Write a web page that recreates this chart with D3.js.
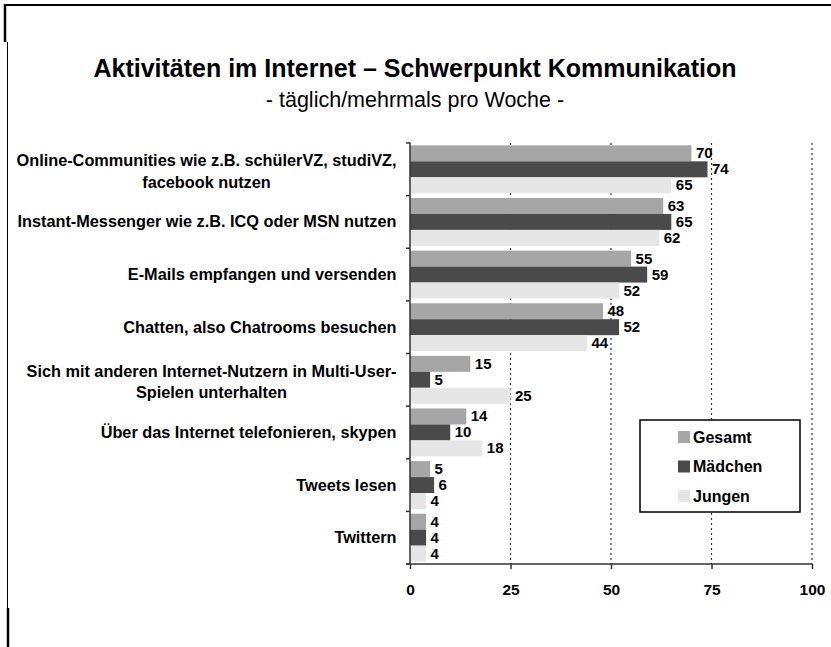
<!DOCTYPE html>
<html>
<head>
<meta charset="utf-8">
<script src="https://cdn.jsdelivr.net/npm/d3@7"></script>
<style>
  body { margin: 0; background: #fff; }
  svg { display: block; font-family: "Liberation Sans", Arial, sans-serif; }
</style>
</head>
<body>
<div id="chart"></div>
<script>
// Werte
const categories = [
  "Online-Communities wie z.B. schülerVZ, studiVZ,\nfacebook nutzen",
  "Instant-Messenger wie z.B. ICQ oder MSN nutzen",
  "E-Mails empfangen und versenden",
  "Chatten, also Chatrooms besuchen",
  "Sich mit anderen Internet-Nutzern in Multi-User-\nSpielen unterhalten",
  "Über das Internet telefonieren, skypen",
  "Tweets lesen",
  "Twittern"
];
const seriesNames = ["Gesamt", "Mädchen", "Jungen"];
const gesamt   = [70, 63, 55, 48, 15, 14, 5, 4];
const maedchen = [74, 65, 59, 52, 5, 10, 6, 4];
const jungen   = [65, 62, 52, 44, 25, 18, 4, 4];
const xTicks = [0, 25, 50, 75, 100];

const seriesValues = [gesamt, maedchen, jungen];
const colors = ["#a6a6a6", "#4a4a4a", "#e6e6e6"];

const width = 831, height = 647;
const plotLeft = 410, plotRight = 812, plotTop = 143, plotBottom = 564;

const svg = d3.select("#chart").append("svg")
  .attr("width", width)
  .attr("height", height);

// Rahmen (Scan-Kanten)
svg.append("line").attr("x1", 4).attr("x2", width).attr("y1", 5).attr("y2", 5)
  .attr("stroke", "#000").attr("stroke-width", 2);
svg.append("line").attr("x1", 5).attr("x2", 5).attr("y1", 4).attr("y2", 42)
  .attr("stroke", "#000").attr("stroke-width", 2.5);
svg.append("line").attr("x1", 7.5).attr("x2", 7.5).attr("y1", 42).attr("y2", 608)
  .attr("stroke", "#000").attr("stroke-width", 1);
svg.append("line").attr("x1", 8).attr("x2", 8).attr("y1", 608).attr("y2", height)
  .attr("stroke", "#000").attr("stroke-width", 2.5);

// Titel
svg.append("text")
  .attr("x", 415).attr("y", 77)
  .attr("text-anchor", "middle")
  .attr("font-size", "25px").attr("font-weight", "bold")
  .text("Aktivitäten im Internet – Schwerpunkt Kommunikation");
svg.append("text")
  .attr("x", 415).attr("y", 107)
  .attr("text-anchor", "middle")
  .attr("font-size", "21.5px")
  .text("- täglich/mehrmals pro Woche -");

const x = d3.scaleLinear().domain([0, 100]).range([plotLeft, plotRight]);

const y0 = d3.scaleBand()
  .domain(d3.range(categories.length))
  .range([plotTop, plotBottom])
  .paddingInner(0.09)
  .paddingOuter(0.045);

const y1 = d3.scaleBand()
  .domain(d3.range(seriesNames.length))
  .range([0, y0.bandwidth()]);

// gepunktete Gitterlinien
svg.append("g")
  .selectAll("line")
  .data(xTicks.slice(1))
  .enter().append("line")
  .attr("x1", d => x(d)).attr("x2", d => x(d))
  .attr("y1", plotTop).attr("y2", plotBottom)
  .attr("stroke", "#333")
  .attr("stroke-width", 1.2)
  .attr("stroke-dasharray", "2,3");

// Balken
const rows = categories.map((c, i) => seriesNames.map((s, j) => ({ cat: i, ser: j, value: seriesValues[j][i] })));

const group = svg.append("g")
  .selectAll("g")
  .data(rows)
  .enter().append("g")
  .attr("transform", (d, i) => `translate(0,${y0(i)})`);

group.selectAll("rect")
  .data(d => d)
  .enter().append("rect")
  .attr("x", x(0))
  .attr("y", d => y1(d.ser))
  .attr("width", d => x(d.value) - x(0))
  .attr("height", y1.bandwidth())
  .attr("fill", d => colors[d.ser]);

group.selectAll("text")
  .data(d => d)
  .enter().append("text")
  .attr("x", d => x(d.value) + 4.5)
  .attr("y", d => y1(d.ser) + y1.bandwidth() / 2 + 5)
  .attr("font-size", "15px")
  .attr("font-weight", "bold")
  .text(d => d.value);

// y-Achse
const step = y0.step();
svg.append("line")
  .attr("x1", plotLeft).attr("x2", plotLeft).attr("y1", plotTop).attr("y2", plotBottom)
  .attr("stroke", "#333").attr("stroke-width", 1.5);
svg.append("g")
  .selectAll("line")
  .data(d3.range(categories.length + 1))
  .enter().append("line")
  .attr("x1", plotLeft - 4).attr("x2", plotLeft)
  .attr("y1", i => plotTop + i * step).attr("y2", i => plotTop + i * step)
  .attr("stroke", "#333").attr("stroke-width", 1.5);

// Kategorie-Beschriftungen (Block rechtsbündig, Zeilen zentriert)
const labelRight = 396.5;
categories.forEach((c, i) => {
  const lines = c.split("\n");
  const cy = y0(i) + y0.bandwidth() / 2;
  const g = svg.append("g");
  const texts = lines.map((ln, k) => g.append("text")
    .attr("font-size", "16.3px")
    .attr("font-weight", "bold")
    .attr("text-anchor", "middle")
    .attr("y", cy + 5.5 + (k - (lines.length - 1) / 2) * 21.5 + (lines.length > 1 ? 2 : 0))
    .text(ln));
  const maxW = d3.max(texts, t => t.node().getComputedTextLength());
  texts.forEach(t => t.attr("x", labelRight - maxW / 2));
});

// x-Achse
const xAxis = svg.append("g")
  .attr("transform", `translate(0,${plotBottom})`)
  .call(d3.axisBottom(x).tickValues(xTicks).tickSize(5).tickSizeOuter(0).tickPadding(15));
xAxis.select(".domain").remove();
xAxis.selectAll(".tick line").attr("stroke", "#333").attr("stroke-width", 1.5);
xAxis.selectAll(".tick text")
  .attr("font-family", "Liberation Sans, Arial, sans-serif")
  .attr("font-size", "15.5px")
  .attr("font-weight", "bold")
  .attr("fill", "#000");
svg.append("line")
  .attr("x1", plotLeft - 4).attr("x2", plotRight).attr("y1", plotBottom).attr("y2", plotBottom)
  .attr("stroke", "#333").attr("stroke-width", 1.5);

// Legende
const legend = svg.append("g").attr("transform", "translate(640,420)");
legend.append("rect")
  .attr("width", 160).attr("height", 92)
  .attr("fill", "#fff").attr("stroke", "#000").attr("stroke-width", 1.5);
const item = legend.selectAll(".item")
  .data(seriesNames)
  .enter().append("g")
  .attr("transform", (d, i) => `translate(38,${11 + i * 29.5})`);
item.append("rect")
  .attr("width", 12).attr("height", 12)
  .attr("fill", (d, i) => colors[i]);
item.append("text")
  .attr("x", 15).attr("y", 11.5)
  .attr("font-size", "16px").attr("font-weight", "bold")
  .text(d => d);
</script>
</body>
</html>
